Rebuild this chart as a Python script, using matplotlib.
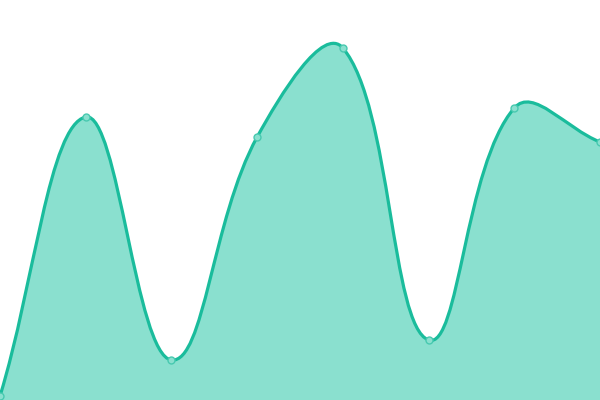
import matplotlib
matplotlib.use("Agg")
import matplotlib.pyplot as plt
import numpy as np
from matplotlib.path import Path
from matplotlib.patches import PathPatch

values = [4, 283, 40, 263, 352, 60, 292, 258]
y_max = 400
line_color = '#1abc9c'
fill_color = '#8ae0cf'
tension = 0.4


def spline_controls(xs, ys, t):
    # chart.js style spline control points, computed in pixel-like space
    n = len(xs)
    ctrl = []
    for i in range(n):
        p0 = np.array([xs[max(i - 1, 0)], ys[max(i - 1, 0)]])
        p1 = np.array([xs[i], ys[i]])
        p2 = np.array([xs[min(i + 1, n - 1)], ys[min(i + 1, n - 1)]])
        d01 = np.hypot(*(p1 - p0))
        d12 = np.hypot(*(p2 - p1))
        tot = d01 + d12
        s01 = d01 / tot if tot else 0
        s12 = d12 / tot if tot else 0
        prev = p1 - t * s01 * (p2 - p0)
        nxt = p1 + t * s12 * (p2 - p0)
        ctrl.append((prev, nxt))
    return ctrl


fig = plt.figure(figsize=(6, 4), dpi=100)
ax = fig.add_axes([0, 0, 1, 1])
n = len(values)
ax.set_xlim(0, n - 1)
ax.set_ylim(0, y_max)
ax.axis('off')

# work in pixel units so the curve shape matches the screen
sx = 600 / (n - 1)
sy = 400 / y_max
px = [i * sx for i in range(n)]
py = [v * sy for v in values]
ctrl = spline_controls(px, py, tension)

verts = [(px[0] / sx, py[0] / sy)]
codes = [Path.MOVETO]
for i in range(n - 1):
    c1 = ctrl[i][1]
    c2 = ctrl[i + 1][0]
    c1 = (c1[0] / sx, np.clip(c1[1], 0, 400) / sy)
    c2 = (c2[0] / sx, np.clip(c2[1], 0, 400) / sy)
    verts += [c1, c2, (px[i + 1] / sx, py[i + 1] / sy)]
    codes += [Path.CURVE4] * 3

line_path = Path(verts, codes)
fill_verts = verts + [(n - 1, 0), (0, 0), verts[0]]
fill_codes = codes + [Path.LINETO, Path.LINETO, Path.CLOSEPOLY]
ax.add_patch(PathPatch(Path(fill_verts, fill_codes), facecolor=fill_color,
                       edgecolor='none', zorder=1))
ax.add_patch(PathPatch(line_path, facecolor='none', edgecolor=line_color,
                       lw=2.3, zorder=2, clip_on=False))
ax.plot(range(n), values, 'o', ms=5, mfc=fill_color, mec='#48c9b0',
        mew=1, zorder=3, clip_on=False)

fig.savefig('out.png', dpi=100)
